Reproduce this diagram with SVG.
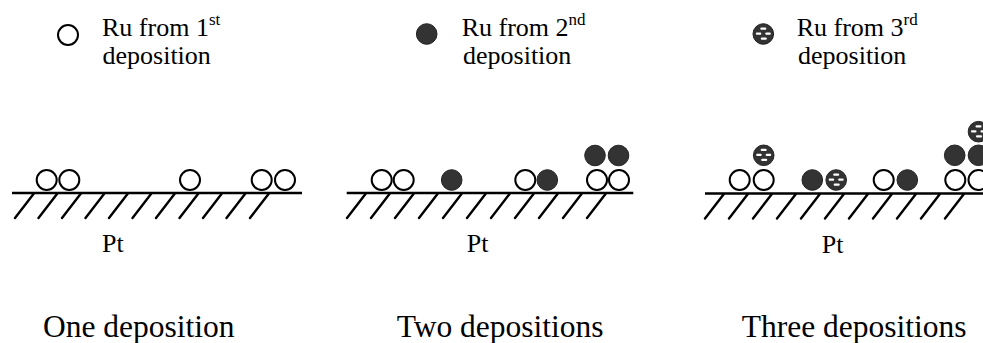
<svg xmlns="http://www.w3.org/2000/svg" width="983" height="343" viewBox="0 0 983 343">
  <style>
    text { font-family: 'Liberation Serif', 'DejaVu Serif', serif; fill: #000; }
    .leg { font-size: 26px; }
    .sup { font-size: 17px; }
    .cap { font-size: 31.5px; }
    .open { fill: #fff; stroke: #000; stroke-width: 2; }
    .dark { fill: #333; stroke: #222; stroke-width: 1; }
    .surf { stroke: #000; stroke-width: 2.5; fill: none; }
    .hatch { stroke: #000; stroke-width: 2.4; fill: none; stroke-linecap: round; }
  </style>
  <defs>
    <!-- Ru atoms, one symbol per deposition -->
    <circle id="ru1" r="10" class="open"/>
    <circle id="ru2" r="10.3" class="dark"/>
    <g id="ru3">
      <circle r="10.3" fill="#333" stroke="#222" stroke-width="1"/>
      <rect x="-3" y="-6.5" width="6" height="2.2" rx="1" fill="#fff"/>
      <rect x="-7.5" y="-1.5" width="5.5" height="2.2" rx="1" fill="#fff"/>
      <rect x="2" y="-1.5" width="5.5" height="2.2" rx="1" fill="#fff"/>
      <rect x="-2.5" y="3.5" width="6" height="2.2" rx="1" fill="#fff"/>
    </g>
  </defs>

  <rect width="983" height="343" fill="#fff"/>

  <!-- Panel 1: one deposition -->
  <g id="panel-one">
    <g id="legend-1">
      <use href="#ru1" x="68" y="35"/>
      <text class="leg" font-family="Liberation Serif, serif" x="102" y="36">Ru from 1<tspan class="sup" dy="-11">st</tspan></text>
      <text class="leg" font-family="Liberation Serif, serif" x="102.5" y="64">deposition</text>
    </g>
    <g id="surface-1">
      <line class="surf" x1="12" y1="193" x2="302" y2="193"/>
      <path class="hatch" d="M15 218l18.5 -24 M38.5 218l18.5 -24 M62 218l18.5 -24 M85.5 218l18.5 -24 M109 218l18.5 -24 M132.5 218l18.5 -24 M156 218l18.5 -24 M179.5 218l18.5 -24 M203 218l18.5 -24 M226.5 218l18.5 -24 M250 218l18.5 -24"/>
    </g>
    <g id="atoms-1">
      <use href="#ru1" x="46.7" y="180"/>
      <use href="#ru1" x="69.3" y="180"/>
      <use href="#ru1" x="190" y="180"/>
      <use href="#ru1" x="261.7" y="180"/>
      <use href="#ru1" x="285" y="180"/>
    </g>
    <text class="leg" font-family="Liberation Serif, serif" x="102" y="252">Pt</text>
    <text class="cap" font-family="Liberation Serif, serif" x="43" y="337">One deposition</text>
  </g>

  <!-- Panel 2: two depositions -->
  <g id="panel-two">
    <g id="legend-2">
      <use href="#ru2" x="426.7" y="34"/>
      <text class="leg" font-family="Liberation Serif, serif" x="461.7" y="36">Ru from 2<tspan class="sup" dy="-11">nd</tspan></text>
      <text class="leg" font-family="Liberation Serif, serif" x="463" y="64">deposition</text>
    </g>
    <g id="surface-2">
      <line class="surf" x1="346.7" y1="193" x2="633.3" y2="193"/>
      <path class="hatch" d="M347 218l18.5 -24 M371 218l18.5 -24 M395 218l18.5 -24 M419 218l18.5 -24 M443 218l18.5 -24 M467 218l18.5 -24 M491 218l18.5 -24 M515 218l18.5 -24 M539 218l18.5 -24 M563 218l18.5 -24 M587 218l18.5 -24"/>
    </g>
    <g id="atoms-2">
      <use href="#ru1" x="381.7" y="180"/>
      <use href="#ru1" x="403.7" y="180"/>
      <use href="#ru2" x="451.7" y="180"/>
      <use href="#ru1" x="525.3" y="180"/>
      <use href="#ru2" x="547.3" y="180"/>
      <use href="#ru1" x="597" y="180"/>
      <use href="#ru1" x="619" y="180"/>
      <use href="#ru2" x="595" y="155.5"/>
      <use href="#ru2" x="618.5" y="155.5"/>
    </g>
    <text class="leg" font-family="Liberation Serif, serif" x="466.7" y="252">Pt</text>
    <text class="cap" font-family="Liberation Serif, serif" x="396.7" y="337">Two depositions</text>
  </g>

  <!-- Panel 3: three depositions -->
  <g id="panel-three">
    <g id="legend-3">
      <use href="#ru3" x="763.3" y="34"/>
      <text class="leg" font-family="Liberation Serif, serif" x="796.7" y="36">Ru from 3<tspan class="sup" dy="-11">rd</tspan></text>
      <text class="leg" font-family="Liberation Serif, serif" x="798" y="64">deposition</text>
    </g>
    <g id="surface-3">
      <line class="surf" x1="705" y1="193.5" x2="983" y2="193.5"/>
      <path class="hatch" d="M705 218.5l18.5 -24 M729 218.5l18.5 -24 M753 218.5l18.5 -24 M777 218.5l18.5 -24 M801 218.5l18.5 -24 M825 218.5l18.5 -24 M849 218.5l18.5 -24 M873 218.5l18.5 -24 M897 218.5l18.5 -24 M921 218.5l18.5 -24 M945 218.5l18.5 -24"/>
    </g>
    <g id="atoms-3">
      <use href="#ru1" x="739.7" y="180"/>
      <use href="#ru1" x="763.7" y="180"/>
      <use href="#ru3" x="763.7" y="155.3"/>
      <use href="#ru2" x="812.3" y="180"/>
      <use href="#ru3" x="836.2" y="180"/>
      <use href="#ru1" x="883.7" y="180"/>
      <use href="#ru2" x="907.3" y="180"/>
      <use href="#ru1" x="955.3" y="180"/>
      <use href="#ru1" x="978.5" y="180"/>
      <use href="#ru2" x="954.7" y="155.3"/>
      <use href="#ru2" x="978.5" y="155.3"/>
      <use href="#ru3" x="978.5" y="131.7"/>
    </g>
    <text class="leg" font-family="Liberation Serif, serif" x="821.7" y="253">Pt</text>
    <text class="cap" font-family="Liberation Serif, serif" x="741.7" y="337">Three depositions</text>
  </g>
</svg>
